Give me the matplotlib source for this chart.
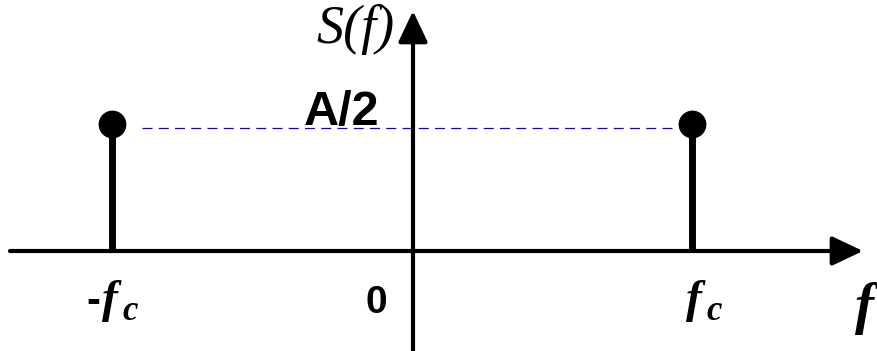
import numpy as np
import matplotlib.pyplot as plt

# two-sided spectrum of A*cos(2*pi*fc*t): impulses at -fc and +fc of height A/2
freqs = [-1.08, 1.0]
amps = [0.5, 0.5]

W, H = 878, 351
X0, Y0 = 413, 251          # pixel position of the origin
SX, SY = 279.0, 254.0      # pixels per data unit


def px(x, y):
    return (x - X0) / SX, (Y0 - y) / SY


fig = plt.figure(figsize=(W / 100, H / 100), dpi=100)
ax = fig.add_axes([0, 0, 1, 1])
ax.set_xlim((0 - X0) / SX, (W - X0) / SX)
ax.set_ylim((Y0 - H) / SY, Y0 / SY)
ax.axis('off')

# axes with arrow heads
arrow = dict(arrowstyle='-|>,head_length=1.9,head_width=0.9', lw=3,
             color='k', mutation_scale=10, shrinkA=0, shrinkB=0)
ax.annotate('', xy=px(863, Y0), xytext=px(10, Y0), arrowprops=arrow)
ax.annotate('', xy=px(X0, 11), xytext=px(X0, H + 5), arrowprops=arrow)

# impulses
markerline, stemlines, baseline = ax.stem(freqs, amps, linefmt='k-',
                                          markerfmt='ko', basefmt=' ')
plt.setp(stemlines, linewidth=5)
plt.setp(markerline, markersize=19, zorder=5)

# A/2 level guide
ax.hlines(amps[0] - 0.016, freqs[0] + 0.11, freqs[1] - 0.07, colors='#0000ff',
          linewidth=0.9, linestyles=(0, (8, 5)))

ax.text(*px(355, 43), 'S(f)', family='Liberation Serif', style='italic',
        fontsize=39, ha='center', va='baseline')
ax.text(*px(342, 125), 'A/2', family='Liberation Sans', weight='bold',
        fontsize=35, ha='center', va='baseline')
ax.text(*px(376, 313), '0', family='Liberation Sans', weight='bold',
        fontsize=28, ha='center', va='baseline')

# frequency labels: italic f with a lowered, smaller c
ital = dict(family='Liberation Serif', style='italic', weight='bold',
            ha='left', va='baseline')
ax.text(*px(86, 313), '-', family='Liberation Sans', weight='bold',
        fontsize=30, ha='left', va='baseline')
ax.text(*px(102, 312), 'f', fontsize=34, **ital)
ax.text(*px(122, 320), 'c', fontsize=25, **ital)
ax.text(*px(686, 312), 'f', fontsize=34, **ital)
ax.text(*px(706, 320), 'c', fontsize=25, **ital)
ax.text(*px(855, 323), 'f', fontsize=41, **ital)

fig.savefig('out.png', dpi=100)
